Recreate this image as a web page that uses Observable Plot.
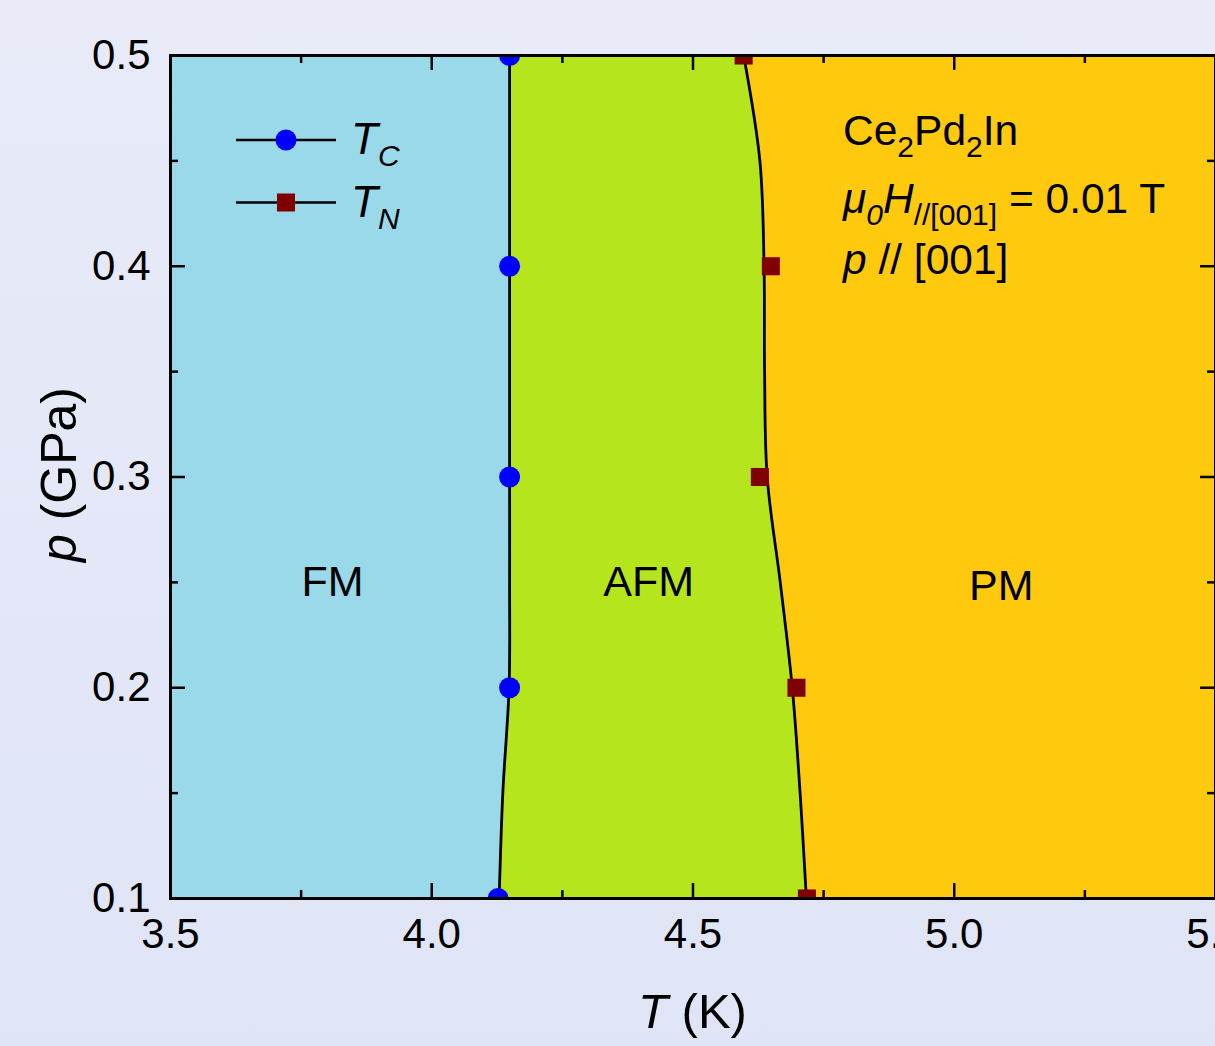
<!DOCTYPE html>
<html><head><meta charset="utf-8">
<script src="https://cdn.jsdelivr.net/npm/d3@7"></script>
<script src="https://cdn.jsdelivr.net/npm/@observablehq/plot@0.6"></script>
<style>
html,body{margin:0;padding:0;}
body{width:1215px;height:1046px;overflow:hidden;background:linear-gradient(#e8eaf8,#dfe5f6);font-family:"Liberation Sans",Arial,sans-serif;}
#chart svg{display:block;}
</style></head><body><div id="chart"></div>
<script>
// ---- data ----
const boundaryP   = [0.10, 0.15, 0.20, 0.25, 0.30, 0.35, 0.40, 0.45, 0.50];
const tcBoundaryT = [4.129, 4.136, 4.148, 4.149, 4.149, 4.149, 4.149, 4.149, 4.149];
const tnBoundaryT = [4.717, 4.705, 4.690, 4.667, 4.642, 4.637, 4.636, 4.628, 4.597];
const tcP = [0.1, 0.2, 0.3, 0.4, 0.5];
const tcT = [4.127, 4.149, 4.149, 4.149, 4.149];
const tnP = [0.1, 0.2, 0.3, 0.4, 0.5];
const tnT = [4.718, 4.698, 4.628, 4.649, 4.597];
const xTicks = [3.5, 4.0, 4.5, 5.0, 5.5];
const xMinorTicks = [3.75, 4.25, 4.75, 5.25];
const yTicks = [0.1, 0.2, 0.3, 0.4, 0.5];
const yMinorTicks = [0.15, 0.25, 0.35, 0.45];
const phaseNames = ["FM", "AFM", "PM"];
const phaseT = [3.81, 4.415, 5.09];
const phaseP = [0.25, 0.25, 0.248];
const phaseColors = ["#99d9ea", "#b5e61d", "#ffc90e"];

// ---- layout ----
const FONT = '"Liberation Sans", Arial, sans-serif';
const W = 1215, H = 1046, ML = 170, MR = 0, MT = 55, MB = 148;
const FW = W - ML - MR, FH = H - MT - MB;
const curve = "catmull-rom";

const rows = boundaryP.map((p, i) => ({p, tc: tcBoundaryT[i], tn: tnBoundaryT[i]}));
const tcRows = tcP.map((p, i) => ({p, t: tcT[i]}));
const tnRows = tnP.map((p, i) => ({p, t: tnT[i]}));
const xmin = xTicks[0], xmax = xTicks[xTicks.length - 1];

const tickStyle = {stroke: "#000", strokeWidth: 2.5};
const plot = Plot.plot({
  width: W, height: H,
  marginLeft: ML, marginRight: MR, marginTop: MT, marginBottom: MB,
  x: {domain: [xmin, xmax]},
  y: {domain: [yTicks[0], yTicks[yTicks.length - 1]]},
  style: {background: "transparent", fontFamily: FONT, color: "#000", overflow: "visible"},
  marks: [
    Plot.areaX(rows, {y: "p", x1: () => xmin, x2: "tc", curve, fill: phaseColors[0]}),
    Plot.areaX(rows, {y: "p", x1: "tc", x2: "tn", curve, fill: phaseColors[1]}),
    Plot.areaX(rows, {y: "p", x1: "tn", x2: () => xmax, curve, fill: phaseColors[2]}),
    Plot.line(rows, {x: "tc", y: "p", curve, stroke: "#000", strokeWidth: 2.8}),
    Plot.line(rows, {x: "tn", y: "p", curve, stroke: "#000", strokeWidth: 2.8}),
    Plot.dot(tcRows, {x: "t", y: "p", r: 10.5, fill: "#0000ff", stroke: "none", clip: true}),
    Plot.dot(tnRows, {x: "t", y: "p", r: 10.2, symbol: "square", fill: "#800000", stroke: "none", clip: true}),
    Plot.text(phaseNames, {x: (d, i) => phaseT[i], y: (d, i) => phaseP[i], text: d => d, fontSize: 43, fill: "#000"}),
    // inward ticks: bottom/top
    Plot.tickX(xTicks, {x: d => d, insetTop: FH - 15, ...tickStyle}),
    Plot.tickX(xTicks, {x: d => d, insetBottom: FH - 15, ...tickStyle}),
    Plot.tickX(xMinorTicks, {x: d => d, insetTop: FH - 8, ...tickStyle}),
    Plot.tickX(xMinorTicks, {x: d => d, insetBottom: FH - 8, ...tickStyle}),
    // inward ticks: left/right
    Plot.tickY(yTicks, {y: d => d, insetRight: FW - 15, ...tickStyle}),
    Plot.tickY(yTicks, {y: d => d, insetLeft: FW - 15, ...tickStyle}),
    Plot.tickY(yMinorTicks, {y: d => d, insetRight: FW - 8, ...tickStyle}),
    Plot.tickY(yMinorTicks, {y: d => d, insetLeft: FW - 8, ...tickStyle}),
    Plot.frame({stroke: "#000", strokeWidth: 3}),
    Plot.axisX({ticks: xTicks, tickSize: 0, tickPadding: 20, tickFormat: d3.format(".1f"), fontSize: 42, label: null, fill: "#000"}),
    Plot.axisY({ticks: yTicks, tickSize: 0, tickPadding: 20, tickFormat: d3.format(".1f"), fontSize: 42, label: null, fill: "#000"})
  ]
});
document.getElementById("chart").appendChild(plot);

// ---- rich text (italics / subscripts) ----
const svg = d3.select(plot);
const sx = plot.scale("x"), sy = plot.scale("y");
function rich(x, y, parts, size, anchor = "start", transform = null, subRatio = 0.68) {
  const t = svg.append("text").attr("x", x).attr("y", y)
    .attr("font-size", size).attr("font-family", FONT).attr("fill", "#000")
    .attr("text-anchor", anchor);
  if (transform) t.attr("transform", transform);
  let shift = 0;
  for (const p of parts) {
    const s = p.sub ? Math.round(size * 0.28) : 0;
    const ts = t.append("tspan").text(p.t);
    if (s - shift !== 0) ts.attr("dy", s - shift);
    shift = s;
    if (p.italic) ts.attr("font-style", "italic");
    if (p.sub) ts.attr("font-size", Math.round(size * subRatio));
  }
  return t;
}

// axis titles
const xMid = sx.apply((xmin + xmax) / 2);
rich(xMid, 1028, [{t: "T", italic: true}, {t: " (K)"}], 49, "middle");
const yMid = (sy.apply(yTicks[0]) + sy.apply(yTicks[yTicks.length - 1])) / 2;
rich(0, 0, [{t: "p", italic: true}, {t: " (GPa)"}], 50, "middle", `translate(76,${yMid - 2}) rotate(-90)`);

// legend
const legend = [
  {sub: "C", color: "#0000ff", symbol: "circle"},
  {sub: "N", color: "#800000", symbol: "square"}
];
legend.forEach((e, i) => {
  const y = MT + 85 + i * 62.5;
  const x0 = ML + 66, x1 = ML + 166, xm = (x0 + x1) / 2;
  svg.append("line").attr("x1", x0).attr("x2", x1).attr("y1", y).attr("y2", y)
    .attr("stroke", "#000").attr("stroke-width", 2.5);
  if (e.symbol === "circle") svg.append("circle").attr("cx", xm).attr("cy", y).attr("r", 10.5).attr("fill", e.color);
  else svg.append("rect").attr("x", xm - 9).attr("y", y - 9).attr("width", 18).attr("height", 18).attr("fill", e.color);
  rich(x1 + 15, y + 14, [{t: "T", italic: true}, {t: e.sub, italic: true, sub: true}], 44);
});

// annotation
const ax = ML + 673;
rich(ax, 145, [{t: "Ce"}, {t: "2", sub: true}, {t: "Pd"}, {t: "2", sub: true}, {t: "In"}], 42.5, "start", null, 0.7);
rich(ax, 213, [{t: "μ", italic: true}, {t: "0", italic: true, sub: true}, {t: "H", italic: true}, {t: "//[001]", sub: true}, {t: " = 0.01 T"}], 42.5, "start", null, 0.7);
rich(ax, 274, [{t: "p", italic: true}, {t: " // [001]"}], 42.5);
</script>
</body></html>
